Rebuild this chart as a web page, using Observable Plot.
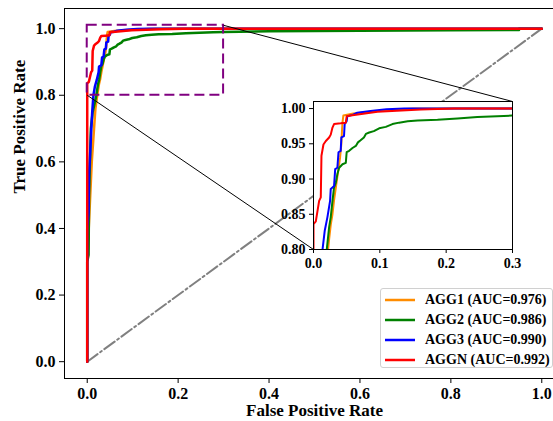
<!DOCTYPE html>
<html><head><meta charset="utf-8">
<script src="https://cdn.jsdelivr.net/npm/d3@7"></script>
<script src="https://cdn.jsdelivr.net/npm/@observablehq/plot@0.6"></script>
<style>
body{margin:0;background:white;overflow:hidden}
#wrap{position:relative;width:553px;height:421px;overflow:hidden;font-family:"Liberation Serif",serif;font-weight:bold;background:white}
#main,#inset{position:absolute;left:0;top:0}
#main{width:564px}
#inset{width:553px}
#legend{position:absolute;left:380px;top:288px;width:173px;height:80px;box-sizing:border-box;border:1px solid #d0d0d0;border-radius:3px;background:rgba(255,255,255,0.8)}
#legend .row{position:absolute;left:4px;height:20px;display:flex;align-items:center;font-size:14px;white-space:nowrap}
#legend svg{margin-right:10px}
</style></head><body>
<div id="wrap"><div id="main"></div><div id="inset"></div><div id="legend"></div></div>
<script>
// ---- data ----
const seriesNames = ["AGG1 (AUC=0.976)", "AGG2 (AUC=0.986)", "AGG3 (AUC=0.990)", "AGGN (AUC=0.992)"];
const seriesColors = ["darkorange", "green", "blue", "red"];

const agg1Fpr = [0, 0, 0.005, 0.01, 0.015, 0.018, 0.022, 0.0236, 0.026, 0.0286, 0.031, 0.034, 0.037, 0.040, 0.042, 0.043, 0.0437, 0.045, 0.06, 0.1, 0.15, 1];
const agg1Tpr = [0, 0.30, 0.45, 0.6, 0.7, 0.76, 0.80, 0.815, 0.835, 0.85, 0.87, 0.89, 0.91, 0.93, 0.95, 0.97, 0.98, 0.99, 0.993, 0.997, 1.0, 1.0];

const agg2Fpr = [0, 0, 0.003, 0.004, 0.006, 0.008, 0.012, 0.017, 0.020, 0.0236, 0.026, 0.0286, 0.031, 0.0337, 0.036, 0.0387, 0.0437, 0.0487, 0.050, 0.0538, 0.0588, 0.0638, 0.067, 0.071, 0.076, 0.079, 0.084, 0.091, 0.099, 0.109, 0.119, 0.129, 0.142, 0.157, 0.187, 0.217, 0.247, 0.277, 0.30, 0.4, 0.6, 0.8, 0.95, 0.95, 1];
const agg2Tpr = [0, 0.30, 0.32, 0.5, 0.6, 0.7, 0.75, 0.78, 0.80, 0.832, 0.846, 0.869, 0.888, 0.895, 0.907, 0.916, 0.921, 0.923, 0.938, 0.94, 0.944, 0.947, 0.952, 0.955, 0.959, 0.964, 0.966, 0.968, 0.972, 0.974, 0.978, 0.98, 0.982, 0.983, 0.984, 0.986, 0.988, 0.989, 0.99, 0.992, 0.994, 0.995, 0.996, 1.0, 1.0];

const agg3Fpr = [0, 0, 0.003, 0.004, 0.007, 0.009, 0.011, 0.0136, 0.017, 0.021, 0.025, 0.026, 0.031, 0.0327, 0.036, 0.0377, 0.041, 0.042, 0.046, 0.047, 0.050, 0.051, 0.059, 0.066, 0.086, 0.11, 0.137, 1];
const agg3Tpr = [0, 0.40, 0.45, 0.56, 0.64, 0.70, 0.75, 0.80, 0.827, 0.846, 0.869, 0.886, 0.89, 0.914, 0.916, 0.938, 0.94, 0.959, 0.961, 0.978, 0.982, 0.989, 0.991, 0.994, 0.9965, 0.999, 1.0, 1.0];

const aggnFpr = [0, 0, 0.0035, 0.0085, 0.011, 0.012, 0.015, 0.0186, 0.0236, 0.026, 0.0286, 0.031, 0.041, 0.0487, 0.050, 0.056, 0.0965, 0.162, 0.212, 1];
const aggnTpr = [0, 0.836, 0.84, 0.869, 0.874, 0.933, 0.949, 0.954, 0.959, 0.963, 0.973, 0.978, 0.979, 0.98, 0.989, 0.99, 0.9955, 0.9985, 1.0, 1.0];

const chanceX = [0, 1];
const chanceY = [0, 1];

const xTicks = [0, 0.2, 0.4, 0.6, 0.8, 1.0];
const yTicks = [0, 0.2, 0.4, 0.6, 0.8, 1.0];
const insetXTicks = [0, 0.1, 0.2, 0.3];
const insetYTicks = [0.80, 0.85, 0.90, 0.95, 1.00];
const zoomX = [0, 0.3];
const zoomY = [0.8, 1.01];

const xLabel = "False Positive Rate";
const yLabel = "True Positive Rate";

// ---- tables ----
const series = [[agg1Fpr, agg1Tpr], [agg2Fpr, agg2Tpr], [agg3Fpr, agg3Tpr], [aggnFpr, aggnTpr]];
const rows = series.flatMap(([f, t], i) => f.map((v, j) => ({fpr: v, tpr: t[j], name: seriesNames[i]})));
const chance = chanceX.map((v, i) => ({x: v, y: chanceY[i]}));

// ---- layout ----
const W = 564, H = 421;
const M = {left: 64, right: 0, top: 8, bottom: 43};
const xDom = [-0.05, 1.05], yDom = [-0.0505, 1.0605];
const I = {left: 313, right: 512, top: 101, bottom: 249};
const px2x = p => xDom[0] + (p - M.left) / (W - M.right - M.left) * (xDom[1] - xDom[0]);
const py2y = p => yDom[1] - (p - M.top) / (H - M.bottom - M.top) * (yDom[1] - yDom[0]);
const links = [
  {x1: zoomX[0], y1: zoomY[0], x2: px2x(I.left), y2: py2y(I.bottom)},
  {x1: zoomX[1], y1: zoomY[1], x2: px2x(I.right), y2: py2y(I.top)}
];
const fontStyle = {fontFamily: "'Liberation Serif', serif", fontWeight: "bold", background: "transparent", maxWidth: "none", overflow: "visible"};
const color = {domain: seriesNames, range: seriesColors};

const main = Plot.plot({
  width: W, height: H,
  marginLeft: M.left, marginRight: M.right, marginTop: M.top, marginBottom: M.bottom,
  x: {domain: xDom, label: null},
  y: {domain: yDom, label: null},
  color,
  style: {...fontStyle, fontSize: "16px"},
  marks: [
    Plot.line(chance, {x: "x", y: "y", stroke: "gray", strokeWidth: 2, strokeDasharray: "12.8,3.2,2,3.2"}),
    Plot.line(rows, {x: "fpr", y: "tpr", z: "name", stroke: "name", strokeWidth: 2.5}),
    Plot.rect([{x1: zoomX[0], x2: zoomX[1], y1: zoomY[0], y2: zoomY[1]}], {x1: "x1", x2: "x2", y1: "y1", y2: "y2", fill: "none", stroke: "purple", strokeWidth: 2, strokeDasharray: "10,5"}),
    Plot.link(links, {x1: "x1", y1: "y1", x2: "x2", y2: "y2", stroke: "black", strokeWidth: 1}),
    Plot.frame({stroke: "black"}),
    Plot.axisX({ticks: xTicks, tickFormat: d3.format(".1f"), tickSize: 5, tickPadding: 4, label: null, fontSize: 16}),
    Plot.axisY({ticks: yTicks, tickFormat: d3.format(".1f"), tickSize: 5, tickPadding: 4, label: null, fontSize: 16}),
    Plot.text([xLabel], {text: d => d, frameAnchor: "bottom", dy: 37, fontSize: 17}),
    Plot.text([yLabel], {text: d => d, frameAnchor: "left", dx: -45, rotate: -90, fontSize: 17})
  ]
});
document.getElementById("main").appendChild(main);

const inset = Plot.plot({
  width: 553, height: H,
  marginLeft: I.left, marginRight: 553 - I.right, marginTop: I.top, marginBottom: H - I.bottom,
  x: {domain: zoomX, label: null},
  y: {domain: zoomY, label: null},
  color,
  style: {...fontStyle, fontSize: "14px"},
  marks: [
    Plot.frame({fill: "white", stroke: "none"}),
    Plot.line(rows, {x: "fpr", y: "tpr", z: "name", stroke: "name", strokeWidth: 2, clip: true}),
    Plot.frame({stroke: "black"}),
    Plot.axisX({ticks: insetXTicks, tickFormat: d3.format(".1f"), tickSize: 4, tickPadding: 5, label: null, fontSize: 14}),
    Plot.axisY({ticks: insetYTicks, tickFormat: d3.format(".2f"), tickSize: 4, tickPadding: 4, label: null, fontSize: 14})
  ]
});
document.getElementById("inset").appendChild(inset);

// ---- legend ----
const legend = document.getElementById("legend");
seriesNames.forEach((n, i) => {
  const row = document.createElement("div");
  row.className = "row";
  row.style.top = (1 + 20 * i) + "px";
  row.innerHTML = `<svg width="30" height="6"><line x1="0" x2="30" y1="3" y2="3" stroke="${seriesColors[i]}" stroke-width="2.5"/></svg><span></span>`;
  row.querySelector("span").textContent = n;
  legend.appendChild(row);
});
</script>
</body></html>
